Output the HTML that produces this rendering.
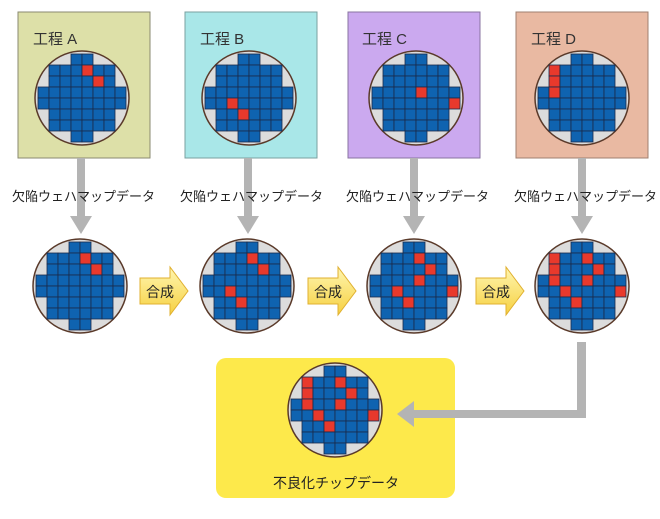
<!DOCTYPE html>
<html><head><meta charset="utf-8"><style>
body{margin:0;background:#fff;}
svg text{font-family:"Liberation Sans","Noto Sans CJK JP",sans-serif;}
</style></head><body>
<svg id="s" width="660" height="514" xmlns="http://www.w3.org/2000/svg">
<defs>
<linearGradient id="yg" x1="0" y1="0" x2="0" y2="1"><stop offset="0" stop-color="#fff6b0"/><stop offset="1" stop-color="#f6d040"/></linearGradient>
</defs>
<rect x="18" y="12" width="132" height="146" fill="#dde0a8" stroke="#8a8a70"/>
<rect x="185" y="12" width="132" height="146" fill="#a9e7e8" stroke="#7aa0a0"/>
<rect x="348" y="12" width="132" height="146" fill="#cba9ef" stroke="#8a74a0"/>
<rect x="516" y="12" width="132" height="146" fill="#e9b9a2" stroke="#a08070"/>
<text x="33" y="44" font-size="15" fill="#333">工程 A</text>
<text x="200" y="44" font-size="15" fill="#333">工程 B</text>
<text x="362" y="44" font-size="15" fill="#333">工程 C</text>
<text x="531" y="44" font-size="15" fill="#333">工程 D</text>
<g fill="#b4b4b4">
<rect x="77" y="158" width="8" height="60"/><polygon points="70,216 92,216 81,234"/>
<rect x="244" y="158" width="8" height="60"/><polygon points="237,216 259,216 248,234"/>
<rect x="410" y="158" width="8" height="60"/><polygon points="403,216 425,216 414,234"/>
<rect x="578" y="158" width="8" height="60"/><polygon points="571,216 593,216 582,234"/>
</g>
<g font-size="13" fill="#222">
<text x="12" y="201">欠陥ウェハマップデータ</text>
<text x="180" y="201">欠陥ウェハマップデータ</text>
<text x="346" y="201">欠陥ウェハマップデータ</text>
<text x="514" y="201">欠陥ウェハマップデータ</text>
</g>
<g stroke="#e0b030" fill="url(#yg)">
<polygon points="140,278 170,278 170,267 188,291 170,315 170,304 140,304"/>
<polygon points="308,278 338,278 338,267 356,291 338,315 338,304 308,304"/>
<polygon points="476,278 506,278 506,267 524,291 506,315 506,304 476,304"/>
</g>
<g font-size="14" fill="#222">
<text x="146" y="297">合成</text><text x="314" y="297">合成</text><text x="482" y="297">合成</text>
</g>
<rect x="216" y="358" width="239" height="140" rx="10" fill="#fde94b"/>
<polygon fill="#b4b4b4" points="577,342 586,342 586,418 414,418 414,427 397,414 414,401 414,410 577,410"/>
<text x="273" y="488" font-size="14" fill="#222">不良化チップデータ</text>
<g id="w"></g>
</svg>
<script>
var rows=[[3,4],[1,6],[1,6],[0,7],[0,7],[1,6],[1,6],[3,4]];
var A=[[1,4],[2,5]],B=[[4,2],[5,3]],C=[[3,4],[4,7]],D=[[1,1],[2,1],[3,1]];
function wafer(cx,cy,reds){
 var s='<circle cx="'+cx+'" cy="'+cy+'" r="47" fill="#dcdcdc" stroke="#5a3a2a" stroke-width="1.5"/>';
 var c=11,x0=cx-44,y0=cy-44;
 for(var r=0;r<8;r++)for(var k=rows[r][0];k<=rows[r][1];k++){
  var red=reds.some(function(p){return p[0]==r&&p[1]==k;});
  s+='<rect x="'+(x0+k*c)+'" y="'+(y0+r*c)+'" width="'+c+'" height="'+c+'" fill="'+(red?'#e8392c':'#0f63b0')+'" stroke="#1a2a4a" stroke-width="0.8"/>';
 }
 return s;
}
var h='';
h+=wafer(82,98,A)+wafer(249,98,B)+wafer(416,98,C)+wafer(582,98,D);
h+=wafer(80,286,A)+wafer(247,286,A.concat(B))+wafer(414,286,A.concat(B,C))+wafer(582,286,A.concat(B,C,D));
h+=wafer(335,410,A.concat(B,C,D));
document.getElementById('w').innerHTML=h;
</script>
</body></html>
